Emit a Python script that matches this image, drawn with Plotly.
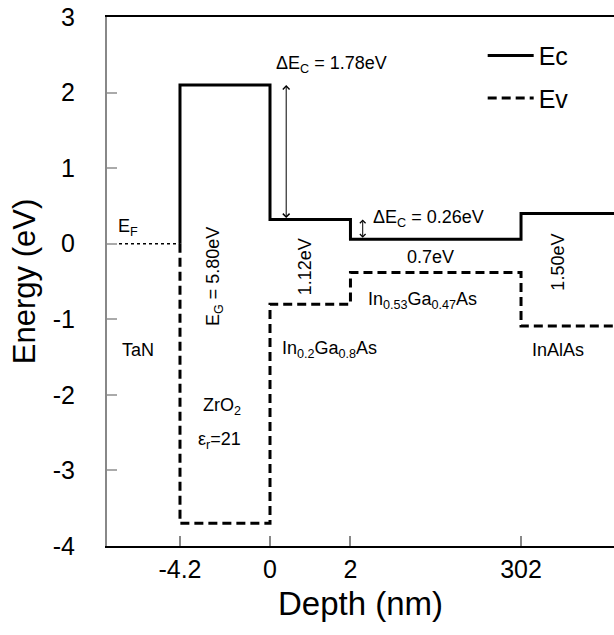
import plotly.graph_objects as go

# ---- data ----
depth_labels = ["-4.2", "0", "2", "302"]
layers = ["TaN", "ZrO2", "In0.2Ga0.8As", "In0.53Ga0.47As", "InAlAs"]
ec_levels = [0.0, 2.10, 0.32, 0.06, 0.40]      # TaN entry = Fermi level
ev_levels = [None, -3.70, -0.80, -0.38, -1.09]
y_ticks = [3, 2, 1, 0, -1, -2, -3, -4]
y_tick_text = ["3", "2", "1", "0", "-1", "-2", "-3", "-4"]

# ---- layout of the (non-linear) depth axis ----
slot = [0.0, 1.0, 1.894, 3.789]          # axis slot of each depth label
x_left, x_right = -0.811, 4.822
x_end = 5.6

bounds = [x_left] + slot + [x_end]

def steps(levels, start):
    xs, ys = [], []
    for i in range(start, len(levels)):
        xs += [bounds[i], bounds[i + 1]]
        ys += [levels[i], levels[i]]
    return xs, ys

ec_x, ec_y = steps(ec_levels, 1)
ec_x = [bounds[1]] + ec_x
ec_y = [ec_levels[0]] + ec_y
ev_x, ev_y = steps(ev_levels, 1)
ev_x = [bounds[1]] + ev_x
ev_y = [ec_levels[0]] + ev_y

fig = go.Figure()
fig.add_trace(go.Scatter(x=[bounds[0], bounds[1]], y=[ec_levels[0]] * 2, mode="lines",
                         line=dict(color="black", width=1.5, dash="dot"), showlegend=False))
fig.add_trace(go.Scatter(x=ec_x, y=ec_y, mode="lines", name="Ec", legendgroup="ec",
                         line=dict(color="black", width=3)))
fig.add_trace(go.Scatter(x=ev_x, y=ev_y, mode="lines", name="Ev", legendgroup="ev",
                         line=dict(color="black", width=3, dash="9px,5px")))

FONT = "Liberation Sans, Arial"

ann = []
def txt(x, y, t, size=18, angle=0, xanchor="center"):
    ann.append(dict(x=x, y=y, text=t, showarrow=False, textangle=angle,
                    xanchor=xanchor, yanchor="middle",
                    font=dict(family=FONT, size=size, color="black")))

txt(1.68, 2.37, "ΔE<sub>C</sub> = 1.78eV")
txt(2.12, 0.34, "ΔE<sub>C</sub> = 0.26eV", xanchor="left")
txt(2.78, -0.17, "0.7eV")
txt(2.69, -0.75, "In<sub>0.53</sub>Ga<sub>0.47</sub>As")
txt(1.11, -1.40, "In<sub>0.2</sub>Ga<sub>0.8</sub>As", xanchor="left")
txt(4.2, -1.40, "InAlAs")
txt(4.2, -0.25, "1.50eV", angle=-90)
txt(1.39, -0.31, "1.12eV", angle=-90)
txt(0.39, -0.44, "E<sub>G</sub> = 5.80eV", angle=-90)
txt(-0.58, 0.22, "E<sub>F</sub>")
txt(-0.47, -1.40, "TaN")
txt(0.47, -2.16, "ZrO<sub>2</sub>")
txt(0.44, -2.6, "ε<sub>r</sub>=21")

# double-headed arrows
ann.append(dict(x=1.18, y=ec_levels[1], ax=1.18, ay=ec_levels[2], xref="x", yref="y",
                axref="x", ayref="y", showarrow=True, arrowhead=4, arrowside="end+start",
                arrowsize=1.3, arrowwidth=1, arrowcolor="black", text=""))
ann.append(dict(x=2.03, y=ec_levels[2], ax=2.03, ay=ec_levels[3], xref="x", yref="y",
                axref="x", ayref="y", showarrow=True, arrowhead=4, arrowside="end+start",
                arrowsize=1.1, arrowwidth=1, arrowcolor="black", text=""))

fig.update_layout(
    width=614, height=635,
    margin=dict(l=107, r=0, t=17, b=89),
    paper_bgcolor="white", plot_bgcolor="white",
    annotations=ann,
    showlegend=True,
    legend=dict(x=0.741, y=0.97, xanchor="left", yanchor="top",
                font=dict(family=FONT, size=25, color="black"),
                bgcolor="rgba(0,0,0,0)", tracegroupgap=7, itemwidth=46),
    xaxis=dict(range=[x_left, x_right], tickmode="array", tickvals=slot, ticktext=depth_labels,
               showgrid=False, zeroline=False, showline=True, linecolor="black", linewidth=2,
               mirror=True, ticks="inside", ticklen=10, tickcolor="#888", tickwidth=1.5,
               tickfont=dict(family=FONT, size=25, color="black"),
               title=dict(text="Depth (nm)", font=dict(family=FONT, size=33, color="black"),
                          standoff=10)),
    yaxis=dict(range=[-4, 3], tickmode="array", tickvals=y_ticks, ticktext=y_tick_text,
               showgrid=False, zeroline=False, showline=True, linecolor="#888", linewidth=2,
               ticks="inside", ticklen=10, tickcolor="#aaa", tickwidth=1.5,
               ticklabelstandoff=25,
               tickfont=dict(family=FONT, size=25, color="black"),
               title=dict(text="Energy (eV)", font=dict(family=FONT, size=31, color="black"),
                          standoff=8)),
)

fig.write_html("out.html")
